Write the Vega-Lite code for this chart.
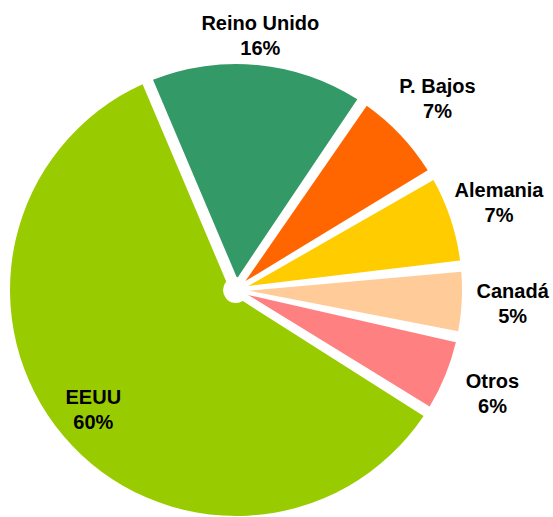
{
  "$schema": "https://vega.github.io/schema/vega-lite/v6.json",
  "width": 472,
  "height": 454,
  "autosize": {"type": "none"},
  "padding": {"left": 0, "top": 63, "right": 81, "bottom": 0},
  "background": "white",
  "view": {"stroke": null},
  "data": {
    "values": [
      {"pais": "Reino Unido", "orden": 1, "v": 0.158},
      {"pais": "P. Bajos", "orden": 2, "v": 0.071},
      {"pais": "Alemania", "orden": 3, "v": 0.068},
      {"pais": "Canadá", "orden": 4, "v": 0.050},
      {"pais": "Otros", "orden": 5, "v": 0.057},
      {"pais": "EEUU", "orden": 6, "v": 0.596}
    ]
  },
  "encoding": {
    "theta": {"field": "v", "type": "quantitative", "stack": true, "scale": {"range": [-0.401, 5.882]}},
    "order": {"field": "orden", "type": "quantitative"},
    "color": {
      "field": "pais",
      "type": "nominal",
      "scale": {
        "domain": ["Reino Unido", "P. Bajos", "Alemania", "Canadá", "Otros", "EEUU"],
        "range": ["#339966", "#FF6600", "#FFCC00", "#FFCC99", "#FF8080", "#99CC00"]
      },
      "legend": null
    }
  },
  "layer": [
    {"mark": {"type": "arc", "outerRadius": 226, "innerRadius": 13, "padAngle": 0.05}},
    {
      "mark": {"type": "text", "radius": 277, "dy": -12.5, "font": "Liberation Sans", "fontWeight": "bold", "fontSize": 20, "baseline": "middle", "align": "center"},
      "encoding": {
        "text": {"field": "pais", "type": "nominal"},
        "color": {"value": "black"},
        "opacity": {"condition": {"test": "datum.pais == 'EEUU' || datum.pais == 'Reino Unido'", "value": 0}, "value": 1}
      }
    },
    {
      "mark": {"type": "text", "radius": 277, "dy": 12.5, "font": "Liberation Sans", "fontWeight": "bold", "fontSize": 20, "baseline": "middle", "align": "center"},
      "encoding": {
        "text": {"field": "v", "type": "quantitative", "format": ".0%"},
        "color": {"value": "black"},
        "opacity": {"condition": {"test": "datum.pais == 'EEUU' || datum.pais == 'Reino Unido'", "value": 0}, "value": 1}
      }
    },
    {
      "mark": {"type": "text", "radius": 255, "dy": -12.5, "font": "Liberation Sans", "fontWeight": "bold", "fontSize": 20, "baseline": "middle", "align": "center"},
      "encoding": {
        "text": {"field": "pais", "type": "nominal"},
        "color": {"value": "black"},
        "opacity": {"condition": {"test": "datum.pais == 'Reino Unido'", "value": 1}, "value": 0}
      }
    },
    {
      "mark": {"type": "text", "radius": 255, "dy": 12.5, "font": "Liberation Sans", "fontWeight": "bold", "fontSize": 20, "baseline": "middle", "align": "center"},
      "encoding": {
        "text": {"field": "v", "type": "quantitative", "format": ".0%"},
        "color": {"value": "black"},
        "opacity": {"condition": {"test": "datum.pais == 'Reino Unido'", "value": 1}, "value": 0}
      }
    },
    {
      "mark": {"type": "text", "radius": 187, "dy": -12.5, "font": "Liberation Sans", "fontWeight": "bold", "fontSize": 20, "baseline": "middle", "align": "center"},
      "encoding": {
        "text": {"field": "pais", "type": "nominal"},
        "color": {"value": "black"},
        "opacity": {"condition": {"test": "datum.pais == 'EEUU'", "value": 1}, "value": 0}
      }
    },
    {
      "mark": {"type": "text", "radius": 187, "dy": 12.5, "font": "Liberation Sans", "fontWeight": "bold", "fontSize": 20, "baseline": "middle", "align": "center"},
      "encoding": {
        "text": {"field": "v", "type": "quantitative", "format": ".0%"},
        "color": {"value": "black"},
        "opacity": {"condition": {"test": "datum.pais == 'EEUU'", "value": 1}, "value": 0}
      }
    }
  ]
}
